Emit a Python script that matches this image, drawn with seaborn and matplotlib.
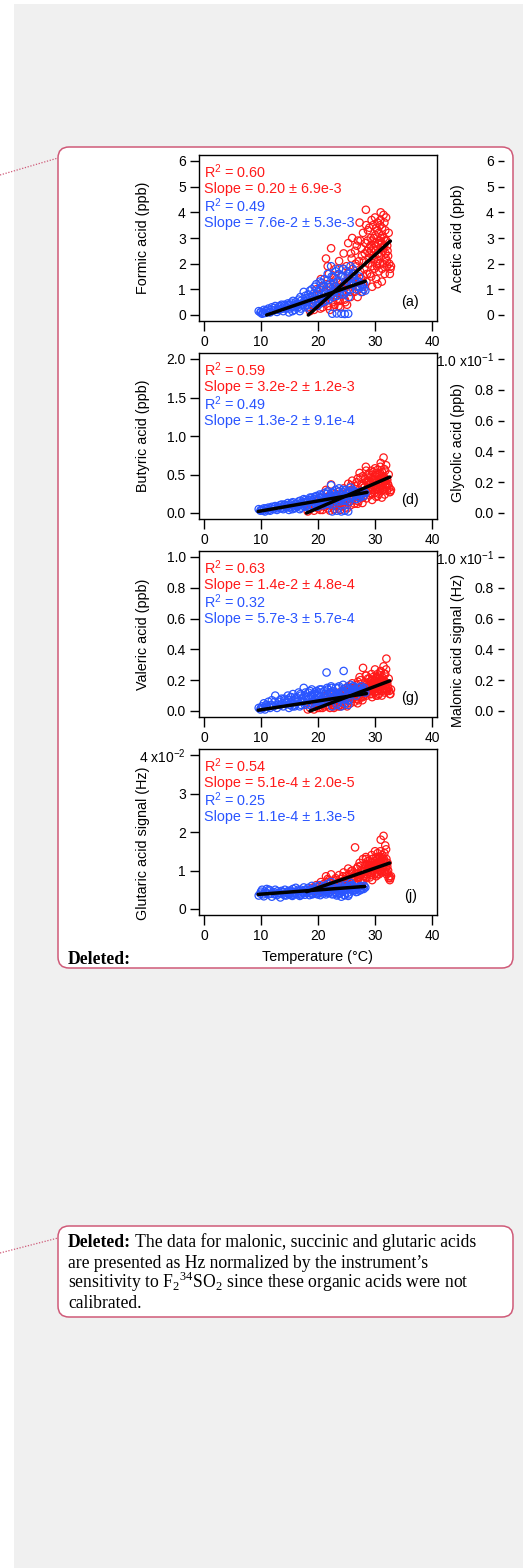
import numpy as np
import matplotlib
matplotlib.use("Agg")
import matplotlib.pyplot as plt
import seaborn as sns
from matplotlib.patches import FancyBboxPatch, Rectangle
from matplotlib.lines import Line2D
from matplotlib.transforms import IdentityTransform, blended_transform_factory

# ---------------- data ----------------
temp_red = [18.2, 18.6, 19.0, 19.3, 19.7, 20.0, 20.2, 20.5, 20.8, 21.0,
            21.2, 21.4, 21.6, 21.9, 22.1, 22.3, 22.5, 22.7, 22.9, 23.1,
            23.3, 23.5, 23.7, 23.9, 24.1, 24.3, 24.5, 24.6, 24.8, 25.0,
            25.2, 25.3, 25.5, 25.7, 25.9, 26.0, 26.2, 26.4, 26.5, 26.7,
            26.9, 27.0, 27.2, 27.3, 27.5, 27.6, 27.8, 27.9, 28.1, 28.2,
            28.4, 28.5, 28.7, 28.8, 29.0, 29.1, 29.2, 29.4, 29.5, 29.6,
            29.8, 29.9, 30.0, 30.1, 30.2, 30.4, 30.5, 30.6, 30.7, 30.9,
            31.0, 31.1, 31.2, 31.3, 31.4, 31.5, 31.6, 31.7, 31.8, 31.9,
            32.0, 32.1, 32.2, 32.4, 32.6, 32.8, 21.5, 23.0, 24.0, 25.1,
            26.1, 27.1, 28.0, 28.9, 29.3, 29.7, 30.3, 30.8, 31.05, 31.45,
            19.5, 20.4, 21.1, 21.8, 22.2, 22.6, 23.2, 23.6, 24.2, 24.4,
            24.7, 24.9, 25.4, 25.6, 25.8, 26.3, 26.6, 26.8, 27.4, 27.7,
            28.3, 28.6, 28.75, 29.05, 29.25, 29.45, 29.55, 29.85, 30.05, 30.15,
            30.35, 30.45, 30.55, 30.65, 30.75, 30.85, 30.95, 31.15, 31.25, 31.35,
            31.55, 31.65, 31.75, 31.85, 31.95, 32.05, 32.15, 32.3, 32.5, 32.7,
            25.05, 26.25, 27.25, 27.45, 28.05, 28.45, 28.95, 29.65, 29.95, 30.25,
            23.8, 22.8, 21.7, 20.6, 26.95, 27.85, 28.65, 29.35, 30.45, 31.25]

formic_red = [0.3, 0.15, 0.6, 0.2, 1.0, 0.4, 0.8, 1.4, 0.3, 1.1,
              0.5, 2.2, 0.7, 1.6, 0.2, 2.6, 0.9, 1.3, 0.4, 1.8,
              0.6, 1.0, 2.1, 0.3, 1.5, 0.8, 2.4, 1.2, 0.5, 1.9,
              1.0, 2.8, 1.4, 0.7, 2.2, 3.0, 1.6, 0.9, 2.5, 1.9,
              1.1, 2.9, 2.1, 3.6, 1.4, 2.6, 0.9, 3.2, 1.8, 2.4,
              4.1, 1.3, 2.9, 2.0, 3.4, 1.6, 2.7, 3.7, 1.1, 2.3,
              3.0, 1.8, 3.8, 2.5, 1.4, 3.3, 2.1, 2.8, 1.7, 3.5,
              4.0, 2.4, 1.3, 3.1, 2.0, 3.9, 2.7, 1.6, 3.3, 2.2,
              2.9, 1.9, 2.5, 3.2, 1.6, 1.9, 1.2, 0.7, 1.1, 0.4,
              1.3, 1.0, 1.5, 2.2, 2.5, 2.6, 2.0, 2.3, 3.0, 2.6,
              0.5, 0.25, 0.9, 0.35, 1.1, 0.5, 1.4, 0.35, 0.9, 1.8,
              0.6, 1.3, 1.7, 0.9, 2.4, 1.2, 2.0, 2.7, 1.7, 2.3,
              2.8, 1.6, 3.3, 2.4, 3.0, 1.9, 2.9, 2.2, 3.1, 2.7,
              1.9, 3.6, 2.4, 3.2, 2.9, 2.0, 3.7, 2.8, 3.4, 2.5,
              3.0, 3.6, 2.9, 2.4, 3.8, 2.1, 2.7, 2.3, 2.0, 1.8,
              1.1, 1.5, 1.3, 2.9, 2.1, 3.5, 2.6, 3.5, 2.8, 3.4,
              0.55, 0.3, 1.9, 0.55, 0.7, 1.2, 2.5, 1.5, 1.2, 1.8]

butyric_red = [0.02, 0.05, 0.10, 0.03, 0.15, 0.06, 0.12, 0.20, 0.04, 0.16,
               0.08, 0.30, 0.10, 0.22, 0.03, 0.37, 0.13, 0.18, 0.05, 0.25,
               0.09, 0.14, 0.28, 0.04, 0.20, 0.11, 0.32, 0.17, 0.07, 0.26,
               0.14, 0.38, 0.20, 0.10, 0.30, 0.42, 0.22, 0.12, 0.35, 0.27,
               0.16, 0.45, 0.30, 0.52, 0.20, 0.37, 0.13, 0.48, 0.26, 0.34,
               0.60, 0.19, 0.42, 0.29, 0.50, 0.23, 0.39, 0.55, 0.17, 0.33,
               0.44, 0.26, 0.58, 0.36, 0.21, 0.49, 0.31, 0.40, 0.25, 0.52,
               0.65, 0.35, 0.20, 0.46, 0.30, 0.72, 0.41, 0.24, 0.55, 0.33,
               0.43, 0.29, 0.38, 0.50, 0.27, 0.30, 0.18, 0.10, 0.15, 0.06,
               0.19, 0.15, 0.22, 0.33, 0.37, 0.39, 0.30, 0.35, 0.45, 0.38,
               0.08, 0.04, 0.14, 0.06, 0.18, 0.09, 0.22, 0.06, 0.16, 0.27,
               0.10, 0.21, 0.28, 0.15, 0.36, 0.20, 0.31, 0.40, 0.28, 0.35,
               0.44, 0.27, 0.50, 0.38, 0.46, 0.30, 0.45, 0.35, 0.48, 0.42,
               0.30, 0.56, 0.38, 0.50, 0.45, 0.32, 0.60, 0.44, 0.53, 0.40,
               0.47, 0.57, 0.45, 0.38, 0.62, 0.34, 0.43, 0.37, 0.33, 0.28,
               0.18, 0.25, 0.22, 0.46, 0.33, 0.55, 0.41, 0.53, 0.43, 0.52,
               0.09, 0.05, 0.28, 0.09, 0.12, 0.20, 0.39, 0.25, 0.22, 0.30]

valeric_red = [0.01, 0.02, 0.03, 0.01, 0.05, 0.02, 0.04, 0.07, 0.02, 0.05,
               0.03, 0.09, 0.04, 0.08, 0.02, 0.12, 0.05, 0.07, 0.03, 0.10,
               0.04, 0.06, 0.12, 0.03, 0.09, 0.05, 0.14, 0.08, 0.04, 0.12,
               0.07, 0.16, 0.09, 0.05, 0.13, 0.18, 0.10, 0.06, 0.15, 0.12,
               0.08, 0.19, 0.13, 0.22, 0.09, 0.16, 0.07, 0.28, 0.12, 0.15,
               0.23, 0.10, 0.18, 0.13, 0.21, 0.11, 0.17, 0.24, 0.09, 0.15,
               0.19, 0.12, 0.27, 0.16, 0.10, 0.22, 0.14, 0.18, 0.11, 0.23,
               0.26, 0.16, 0.10, 0.20, 0.14, 0.29, 0.18, 0.12, 0.24, 0.15,
               0.34, 0.13, 0.16, 0.21, 0.11, 0.14, 0.06, 0.05, 0.07, 0.03,
               0.08, 0.07, 0.10, 0.15, 0.14, 0.17, 0.13, 0.16, 0.20, 0.17,
               0.03, 0.02, 0.06, 0.03, 0.07, 0.04, 0.09, 0.03, 0.07, 0.11,
               0.05, 0.10, 0.12, 0.07, 0.15, 0.09, 0.13, 0.17, 0.12, 0.15,
               0.18, 0.12, 0.21, 0.16, 0.19, 0.13, 0.20, 0.15, 0.21, 0.18,
               0.13, 0.24, 0.16, 0.21, 0.19, 0.14, 0.25, 0.19, 0.22, 0.17,
               0.20, 0.24, 0.19, 0.16, 0.27, 0.14, 0.18, 0.15, 0.13, 0.11,
               0.08, 0.11, 0.10, 0.20, 0.14, 0.23, 0.17, 0.22, 0.18, 0.22,
               0.04, 0.02, 0.11, 0.04, 0.05, 0.09, 0.16, 0.11, 0.10, 0.13]

glutaric_red = [0.45, 0.50, 0.55, 0.47, 0.62, 0.50, 0.58, 0.70, 0.48, 0.65,
                0.55, 0.85, 0.60, 0.75, 0.50, 0.90, 0.62, 0.72, 0.52, 0.80,
                0.58, 0.68, 0.88, 0.50, 0.78, 0.62, 0.95, 0.72, 0.55, 0.85,
                0.68, 1.05, 0.78, 0.60, 0.92, 1.00, 0.80, 0.65, 1.60, 0.90,
                0.72, 1.10, 0.88, 1.20, 0.75, 1.00, 0.68, 1.30, 0.85, 1.05,
                1.35, 0.80, 1.15, 0.95, 1.25, 0.82, 1.10, 1.40, 0.75, 1.00,
                1.20, 0.90, 1.50, 1.10, 0.85, 1.30, 1.00, 1.20, 0.90, 1.35,
                1.80, 1.15, 0.95, 1.40, 1.05, 1.90, 1.25, 1.00, 1.65, 1.10,
                1.30, 0.95, 1.20, 0.80, 0.75, 0.85, 0.70, 0.65, 0.70, 0.60,
                0.75, 0.80, 0.95, 1.05, 1.00, 1.10, 1.15, 1.05, 1.25, 1.20,
                0.52, 0.48, 0.60, 0.52, 0.68, 0.55, 0.75, 0.55, 0.70, 0.85,
                0.62, 0.78, 0.88, 0.70, 0.98, 0.78, 0.92, 1.05, 0.90, 1.00,
                1.15, 0.90, 1.25, 1.05, 1.20, 0.95, 1.30, 1.05, 1.25, 1.15,
                0.95, 1.45, 1.10, 1.30, 1.20, 1.00, 1.50, 1.20, 1.35, 1.10,
                1.30, 1.45, 1.20, 1.05, 1.55, 0.90, 1.10, 1.00, 0.85, 0.80,
                0.72, 0.85, 0.82, 1.12, 0.98, 1.30, 1.12, 1.30, 1.15, 1.35,
                0.60, 0.50, 0.78, 0.55, 0.65, 0.75, 1.00, 0.88, 0.90, 0.98]   # x1e-2 Hz

temp_blue = [9.6, 9.9, 10.2, 10.5, 10.7, 11.0, 11.3, 11.6, 11.9, 12.2,
             12.5, 12.8, 13.1, 13.4, 13.6, 13.9, 14.2, 14.4, 14.7, 14.9,
             15.2, 15.4, 15.6, 15.9, 16.1, 16.3, 16.6, 16.8, 17.0, 17.3,
             17.5, 17.7, 17.9, 18.1, 18.3, 18.5, 18.7, 18.9, 19.1, 19.3,
             19.5, 19.7, 19.9, 20.1, 20.3, 20.5, 20.7, 20.9, 21.1, 21.3,
             21.5, 21.7, 21.9, 22.1, 22.3, 22.5, 22.7, 22.9, 23.1, 23.3,
             23.5, 23.7, 23.9, 24.1, 24.3, 24.5, 24.7, 24.9, 25.1, 25.3,
             25.5, 25.7, 25.9, 26.1, 26.4, 26.7, 27.0, 27.3, 27.6, 28.0,
             28.3, 16.0, 18.0, 20.0, 21.0, 22.0, 23.0, 24.0, 25.0, 26.0,
             10.0, 10.4, 10.9, 11.4, 11.8, 12.4, 12.9, 13.3, 13.8, 14.1,
             14.5, 14.8, 15.0, 15.3, 15.7, 16.2, 16.5, 16.9, 17.2, 17.6,
             17.8, 18.2, 18.6, 19.0, 19.4, 19.8, 20.2, 20.6, 21.2, 21.6,
             22.0, 22.4, 22.8, 23.2, 23.6, 24.0, 24.4, 24.8, 25.2, 25.6,
             26.0, 26.3, 26.6, 26.9, 27.2, 27.5, 27.8, 28.1, 15.5, 17.0,
             19.0, 20.4, 21.4, 22.6, 23.4, 24.6, 25.4, 19.6, 21.8, 23.8]

formic_blue = [0.15, 0.10, 0.05, 0.20, 0.08, 0.15, 0.25, 0.10, 0.30, 0.18,
               0.35, 0.12, 0.30, 0.22, 0.40, 0.15, 0.35, 0.25, 0.45, 0.10,
               0.40, 0.30, 0.55, 0.20, 0.50, 0.35, 0.60, 0.15, 0.55, 0.40,
               0.90, 0.30, 0.65, 0.50, 0.80, 0.25, 0.70, 1.00, 0.45, 0.85,
               0.60, 1.20, 0.35, 0.90, 1.30, 0.70, 1.10, 0.50, 1.40, 0.80,
               1.00, 1.60, 0.60, 1.20, 1.90, 0.05, 1.50, 0.90, 1.70, 0.06,
               1.30, 1.80, 0.80, 0.05, 1.50, 1.10, 0.04, 1.70, 1.30, 0.05,
               1.60, 1.90, 1.20, 1.80, 1.40, 1.00, 1.30, 1.10, 0.90, 1.00,
               0.95, 0.30, 0.40, 0.55, 0.65, 0.75, 1.10, 1.00, 0.90, 1.50,
               0.12, 0.08, 0.18, 0.12, 0.20, 0.28, 0.20, 0.35, 0.25, 0.40,
               0.30, 0.38, 0.25, 0.48, 0.35, 0.42, 0.30, 0.70, 0.45, 0.55,
               0.75, 0.60, 0.95, 0.70, 1.10, 0.80, 1.00, 1.25, 0.90, 1.35,
               1.10, 1.50, 1.20, 1.00, 1.60, 1.30, 1.80, 1.20, 1.50, 1.00,
               1.20, 1.60, 1.30, 1.10, 1.50, 1.20, 1.10, 1.20, 0.15, 0.25,
               0.35, 0.45, 0.55, 0.70, 0.75, 0.80, 0.70, 0.50, 0.80, 0.90]

butyric_blue = [0.05, 0.03, 0.04, 0.06, 0.02, 0.05, 0.07, 0.03, 0.08, 0.05,
                0.09, 0.04, 0.08, 0.06, 0.11, 0.05, 0.10, 0.07, 0.13, 0.04,
                0.11, 0.08, 0.14, 0.06, 0.12, 0.09, 0.15, 0.05, 0.13, 0.10,
                0.18, 0.08, 0.14, 0.11, 0.17, 0.07, 0.15, 0.20, 0.10, 0.18,
                0.13, 0.22, 0.08, 0.17, 0.24, 0.14, 0.20, 0.10, 0.26, 0.16,
                0.19, 0.28, 0.12, 0.22, 0.36, 0.02, 0.26, 0.17, 0.30, 0.03,
                0.23, 0.32, 0.15, 0.02, 0.27, 0.20, 0.03, 0.30, 0.22, 0.02,
                0.28, 0.33, 0.21, 0.30, 0.25, 0.18, 0.24, 0.20, 0.28, 0.22,
                0.26, 0.07, 0.09, 0.12, 0.13, 0.15, 0.20, 0.18, 0.16, 0.27,
                0.04, 0.03, 0.06, 0.04, 0.06, 0.08, 0.06, 0.10, 0.07, 0.11,
                0.09, 0.10, 0.07, 0.13, 0.10, 0.12, 0.09, 0.16, 0.12, 0.14,
                0.17, 0.14, 0.20, 0.16, 0.21, 0.17, 0.20, 0.23, 0.18, 0.25,
                0.20, 0.27, 0.22, 0.19, 0.28, 0.24, 0.30, 0.22, 0.27, 0.19,
                0.23, 0.28, 0.24, 0.21, 0.27, 0.23, 0.25, 0.27, 0.05, 0.07,
                0.09, 0.11, 0.12, 0.14, 0.15, 0.16, 0.14, 0.12, 0.16, 0.18]

valeric_blue = [0.02, 0.01, 0.03, 0.05, 0.01, 0.03, 0.06, 0.02, 0.07, 0.03,
                0.10, 0.02, 0.06, 0.04, 0.08, 0.03, 0.07, 0.05, 0.10, 0.02,
                0.09, 0.05, 0.11, 0.03, 0.08, 0.06, 0.12, 0.03, 0.10, 0.06,
                0.15, 0.04, 0.09, 0.07, 0.12, 0.04, 0.10, 0.14, 0.06, 0.11,
                0.08, 0.13, 0.04, 0.10, 0.14, 0.07, 0.12, 0.05, 0.13, 0.09,
                0.25, 0.14, 0.07, 0.12, 0.16, 0.03, 0.13, 0.09, 0.15, 0.04,
                0.11, 0.16, 0.08, 0.03, 0.13, 0.26, 0.05, 0.15, 0.10, 0.04,
                0.14, 0.17, 0.11, 0.16, 0.13, 0.10, 0.15, 0.12, 0.16, 0.13,
                0.12, 0.04, 0.05, 0.06, 0.07, 0.08, 0.10, 0.09, 0.08, 0.14,
                0.02, 0.02, 0.04, 0.03, 0.04, 0.06, 0.04, 0.07, 0.05, 0.08,
                0.06, 0.07, 0.04, 0.09, 0.07, 0.09, 0.06, 0.11, 0.08, 0.10,
                0.12, 0.09, 0.13, 0.10, 0.12, 0.10, 0.12, 0.14, 0.11, 0.15,
                0.12, 0.15, 0.12, 0.10, 0.15, 0.12, 0.17, 0.12, 0.15, 0.11,
                0.13, 0.16, 0.13, 0.12, 0.15, 0.13, 0.14, 0.15, 0.03, 0.04,
                0.05, 0.06, 0.06, 0.07, 0.08, 0.08, 0.07, 0.07, 0.09, 0.10]

glutaric_blue = [0.35, 0.40, 0.50, 0.33, 0.45, 0.52, 0.38, 0.48, 0.32, 0.44,
                 0.50, 0.36, 0.42, 0.30, 0.47, 0.40, 0.50, 0.35, 0.44, 0.38,
                 0.48, 0.36, 0.52, 0.42, 0.55, 0.38, 0.46, 0.34, 0.50, 0.43,
                 0.56, 0.37, 0.48, 0.42, 0.55, 0.36, 0.50, 0.60, 0.40, 0.52,
                 0.45, 0.58, 0.38, 0.50, 0.62, 0.44, 0.55, 0.40, 0.60, 0.47,
                 0.52, 0.65, 0.42, 0.55, 0.70, 0.38, 0.58, 0.45, 0.62, 0.35,
                 0.50, 0.66, 0.42, 0.32, 0.56, 0.48, 0.36, 0.62, 0.50, 0.34,
                 0.58, 0.68, 0.52, 0.60, 0.50, 0.44, 0.55, 0.48, 0.60, 0.52,
                 0.56, 0.40, 0.44, 0.47, 0.50, 0.48, 0.53, 0.46, 0.55, 0.62,
                 0.45, 0.38, 0.42, 0.50, 0.40, 0.38, 0.46, 0.40, 0.44, 0.36,
                 0.42, 0.47, 0.40, 0.45, 0.38, 0.44, 0.50, 0.40, 0.46, 0.42,
                 0.50, 0.46, 0.42, 0.50, 0.44, 0.48, 0.42, 0.52, 0.45, 0.55,
                 0.44, 0.50, 0.56, 0.42, 0.52, 0.58, 0.45, 0.55, 0.42, 0.60,
                 0.48, 0.56, 0.50, 0.45, 0.58, 0.50, 0.54, 0.60, 0.34, 0.36,
                 0.38, 0.36, 0.38, 0.40, 0.38, 0.36, 0.38, 0.40, 0.42, 0.40]   # x1e-2 Hz

# linear fits: slope, intercept, x-range (red = warm, blue = cool)
fit_slope_red = [0.20, 0.032, 0.014, 0.051]
fit_icpt_red = [-3.66, -0.576, -0.2604, -0.468]
fit_xmin_red = [18.3, 18.0, 18.6, 18.0]
fit_xmax_red = [32.7, 32.6, 32.6, 32.6]
fit_slope_blue = [0.076, 0.013, 0.0057, 0.011]
fit_icpt_blue = [-0.836, -0.1035, -0.049, 0.2755]
fit_xmin_blue = [11.0, 9.5, 9.5, 9.5]
fit_xmax_blue = [28.3, 28.6, 28.5, 28.2]

r2_red = ["0.60", "0.59", "0.63", "0.54"]
slope_red_txt = ["0.20 \u00b1 6.9e-3", "3.2e-2 \u00b1 1.2e-3", "1.4e-2 \u00b1 4.8e-4", "5.1e-4 \u00b1 2.0e-5"]
r2_blue = ["0.49", "0.49", "0.32", "0.25"]
slope_blue_txt = ["7.6e-2 \u00b1 5.3e-3", "1.3e-2 \u00b1 9.1e-4", "5.7e-3 \u00b1 5.7e-4", "1.1e-4 \u00b1 1.3e-5"]

left_labels = ["Formic acid (ppb)", "Butyric acid (ppb)", "Valeric acid (ppb)", "Glutaric acid signal (Hz)"]
left_label_ypos = [0.5, 0.5, 0.5, 0.43]
right_labels = ["Acetic acid (ppb)", "Glycolic acid (ppb)", "Malonic acid signal (Hz)"]
right_label_ypos = [0.5, 0.46, 0.40]
panel_letters = ["(a)", "(d)", "(g)", "(j)"]
left_ticks = [[0, 1, 2, 3, 4, 5, 6], [0, 0.5, 1.0, 1.5, 2.0], [0, 0.2, 0.4, 0.6, 0.8, 1.0], [0, 1, 2, 3, 4]]
left_ticklabels = [["0", "1", "2", "3", "4", "5", "6"],
                   ["0.0", "0.5", "1.0", "1.5", "2.0"],
                   ["0.0", "0.2", "0.4", "0.6", "0.8", "1.0"],
                   ["0", "1", "2", "3", "4 x10$^{-2}$"]]
right_ticks = [[0, 1, 2, 3, 4, 5, 6], [0, 0.2, 0.4, 0.6, 0.8, 1.0], [0, 0.2, 0.4, 0.6, 0.8, 1.0]]
right_ticklabels = [["0", "1", "2", "3", "4", "5", "6"],
                    ["0.0", "0.2", "0.4", "0.6", "0.8", "1.0 x10$^{-1}$"],
                    ["0.0", "0.2", "0.4", "0.6", "0.8", "1.0 x10$^{-1}$"]]
x_ticks = [0, 10, 20, 30, 40]

note_lines = ["are presented as Hz normalized by the instrument\u2019s",
              "sensitivity to F$_{\\mathsf{2}}$$^{\\mathsf{34}}$SO$_{\\mathsf{2}}$ since these organic acids were not",
              "calibrated."]

# ---------------- styling ----------------
W, H, DPI = 526, 1568, 100
sns.set_theme(style="white")
plt.rcParams['font.family'] = ['Liberation Sans', 'DejaVu Sans']
plt.rcParams['mathtext.fontset'] = 'custom'
plt.rcParams['mathtext.rm'] = 'Liberation Sans'
plt.rcParams['mathtext.it'] = 'Liberation Sans:italic'
plt.rcParams['mathtext.bf'] = 'Liberation Sans:bold'
plt.rcParams['mathtext.sf'] = 'Liberation Serif'

RED = '#ff1a1a'
BLUE = '#2a55ff'
PINK = '#cf5a78'
SERIF = ['Liberation Serif', 'DejaVu Serif']
FS_TICK = 10
FS_LAB = 10.4
FS_ANN = 10.4
FS_NOTE = 12.7

fig = plt.figure(figsize=(W / DPI, H / DPI), dpi=DPI, facecolor='white')
T = IdentityTransform()


def py(y):
    return H - y


# page background and comment boxes
fig.add_artist(Rectangle((14, 0), 509, H - 4, transform=T, facecolor='#f0f0f0',
                         edgecolor='none', zorder=-3))
fig.add_artist(FancyBboxPatch((58, py(968)), 455, 821, boxstyle='round,pad=0,rounding_size=11',
                              transform=T, facecolor='white', edgecolor=PINK, lw=1.1, zorder=-2))
fig.add_artist(FancyBboxPatch((58, py(1317)), 455, 91, boxstyle='round,pad=0,rounding_size=11',
                              transform=T, facecolor='white', edgecolor=PINK, lw=1.1, zorder=-2))
fig.add_artist(Line2D([0, 58], [py(175), py(158)], transform=T, color=PINK, lw=0.9,
                      linestyle=(0, (1, 1.3)), zorder=-1))
fig.add_artist(Line2D([0, 58], [py(1253), py(1238)], transform=T, color=PINK, lw=0.9,
                      linestyle=(0, (1, 1.3)), zorder=-1))

red_sets = [formic_red, butyric_red, valeric_red, glutaric_red]
blue_sets = [formic_blue, butyric_blue, valeric_blue, glutaric_blue]
tops = [left_ticks[i][-1] for i in range(4)]

FL, FR = 199, 437
for k in range(4):
    top = 155 + 198 * k
    bot = top + 166
    ax = fig.add_axes([FL / W, 1 - bot / H, (FR - FL) / W, (bot - top) / H])
    ax.patch.set_alpha(0)
    sns.scatterplot(x=temp_red, y=red_sets[k], ax=ax, marker='o', s=28, color=RED,
                    facecolors='none', edgecolor=RED, linewidth=0.9, legend=False, zorder=2)
    sns.scatterplot(x=temp_blue, y=blue_sets[k], ax=ax, marker='o', s=28, color=BLUE,
                    facecolors='none', edgecolor=BLUE, linewidth=0.9, legend=False, zorder=3)
    xr = [fit_xmin_red[k], fit_xmax_red[k]]
    sns.lineplot(x=xr, y=[fit_slope_red[k] * v + fit_icpt_red[k] for v in xr], ax=ax,
                 color='black', lw=2.5, zorder=5)
    xb = [fit_xmin_blue[k], fit_xmax_blue[k]]
    sns.lineplot(x=xb, y=[fit_slope_blue[k] * v + fit_icpt_blue[k] for v in xb], ax=ax,
                 color='black', lw=2.5, zorder=5)

    tmax = tops[k]
    ax.set_ylim(-tmax * 6 / 154, tmax * (1 + 6 / 154))
    ax.set_xlim(-5 / 5.7, 40 + 5 / 5.7)
    ax.set_xticks(x_ticks)
    ax.set_xticklabels([str(v) for v in x_ticks])
    ax.set_yticks(left_ticks[k])
    ax.set_yticklabels(left_ticklabels[k])
    for sp in ax.spines.values():
        sp.set_visible(True)
        sp.set_color('black')
        sp.set_linewidth(1.0)
    ax.tick_params(axis='x', bottom=True, direction='out', length=7.2, width=1.0,
                   pad=3, labelsize=FS_TICK, colors='black')
    ax.tick_params(axis='y', left=True, direction='out', length=6.5, width=1.0,
                   pad=3, labelsize=FS_TICK, colors='black')
    ax.set_xlabel("")
    ax.set_ylabel(left_labels[k], fontsize=FS_LAB, color='black')
    ax.yaxis.set_label_coords(150, left_label_ypos[k],
                              transform=blended_transform_factory(T, ax.transAxes))

    # annotations
    x0 = 0.022
    ax.text(x0, 1 - 23 / 166, "R$^{2}$ = " + r2_red[k], transform=ax.transAxes, color=RED,
            fontsize=FS_ANN, va='baseline', ha='left')
    ax.text(x0, 1 - 38 / 166, "Slope = " + slope_red_txt[k], transform=ax.transAxes, color=RED,
            fontsize=FS_ANN, va='baseline', ha='left')
    ax.text(x0, 1 - 57 / 166, "R$^{2}$ = " + r2_blue[k], transform=ax.transAxes, color=BLUE,
            fontsize=FS_ANN, va='baseline', ha='left')
    ax.text(x0, 1 - 72 / 166, "Slope = " + slope_blue_txt[k], transform=ax.transAxes, color=BLUE,
            fontsize=FS_ANN, va='baseline', ha='left')
    ax.text(0.888, 0.115, panel_letters[k], transform=ax.transAxes, color='black',
            fontsize=FS_ANN, va='center', ha='center')

    if k == 3:
        ax.set_xlabel("Temperature (\u00b0C)", fontsize=FS_LAB, color='black')
        ax.xaxis.set_label_coords(0.5, py(950), transform=blended_transform_factory(ax.transAxes, T))

    # right-hand (cut-off) axes
    if k < 3:
        rax = fig.add_axes([504 / W, 1 - bot / H, 2 / W, (bot - top) / H])
        rax.patch.set_alpha(0)
        rmax = right_ticks[k][-1]
        rax.set_ylim(-rmax * 6 / 154, rmax * (1 + 6 / 154))
        rax.set_xticks([])
        rax.set_yticks(right_ticks[k])
        rax.set_yticklabels(right_ticklabels[k])
        for sp in rax.spines.values():
            sp.set_visible(False)
        rax.tick_params(axis='y', left=True, direction='out', length=4.3, width=1.0,
                        pad=3, labelsize=FS_TICK, colors='black')
        rax.set_ylabel(right_labels[k], fontsize=FS_LAB, color='black')
        rax.yaxis.set_label_coords(465, right_label_ypos[k],
                                   transform=blended_transform_factory(T, rax.transAxes))

# "Deleted:" notes
fig.text(68 / W, 1 - 964 / H, "Deleted:", family=SERIF, fontweight='bold', fontsize=FS_NOTE,
         va='baseline', ha='left', color='black')

renderer = fig.canvas.get_renderer()
t_bold = fig.text(68 / W, 1 - 1247 / H, "Deleted:", family=SERIF, fontweight='bold', fontsize=FS_NOTE,
                  va='baseline', ha='left', color='black')
bb = t_bold.get_window_extent(renderer=renderer)
fig.text((bb.x1 + 4) / W, 1 - 1247 / H, "The data for malonic, succinic and glutaric acids",
         family=SERIF, fontsize=FS_NOTE, va='baseline', ha='left', color='black')
for i, line in enumerate(note_lines):
    fig.text(68 / W, 1 - (1268 + 20 * i) / H, line, family=SERIF, fontsize=FS_NOTE,
             va='baseline', ha='left', color='black')

fig.savefig("out.png", dpi=DPI, facecolor='white')
